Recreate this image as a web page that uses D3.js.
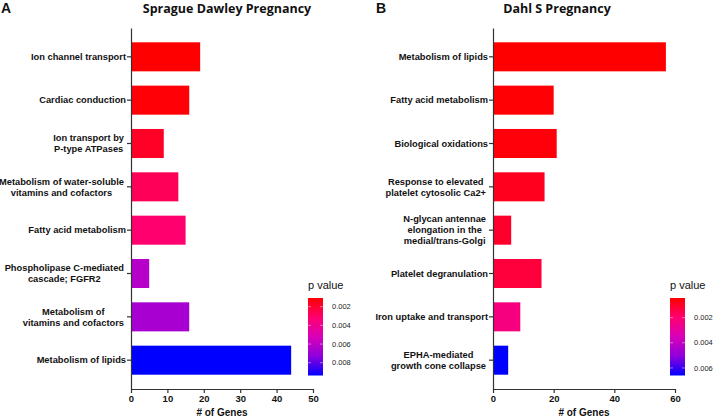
<!DOCTYPE html>
<html><head><meta charset="utf-8">
<script src="https://cdn.jsdelivr.net/npm/d3@7"></script>
<style>body{margin:0;background:#fff}svg{display:block}</style>
</head><body>
<svg id="c" width="715" height="418"></svg>
<script>
// ---- data ----
const catsA = ["Ion channel transport", "Cardiac conduction", "Ion transport by\nP-type ATPases",
  "Metabolism of water-soluble\nvitamins and cofactors", "Fatty acid metabolism",
  "Phospholipase C-mediated\ncascade; FGFR2", "Metabolism of\nvitamins and cofactors", "Metabolism of lipids"];
const genesA = [19, 16, 9, 13, 15, 5, 16, 44];
const pA = [0.00107, 0.0012, 0.0018, 0.0027, 0.0031, 0.0062, 0.0066, 0.00937];
const xTicksA = [0, 10, 20, 30, 40, 50];
const pTicksA = [0.002, 0.004, 0.006, 0.008];

const catsB = ["Metabolism of lipids", "Fatty acid metabolism", "Biological oxidations",
  "Response to elevated\nplatelet cytosolic Ca2+", "N-glycan antennae\nelongation in the\nmedial/trans-Golgi",
  "Platelet degranulation", "Iron uptake and transport", "EPHA-mediated\ngrowth cone collapse"];
const genesB = [57, 20, 21, 17, 6, 16, 9, 5];
const pB = [0.00044, 0.0005, 0.00058, 0.00085, 0.00106, 0.00127, 0.0023, 0.0066];
const xTicksB = [0, 20, 40, 60];
const pTicksB = [0.002, 0.004, 0.006];

const paletteStops = ["#ff0000", "#ff0070", "#d800b8", "#9000dc", "#0000ff"];

const svg = d3.select("#c");
const FONT = "'Liberation Sans', Arial, sans-serif";

function panel(cfg) {
  const g = svg.append("g");
  const y = d3.scaleBand().domain(cfg.cats).range([28, 389]).paddingInner(0.33).paddingOuter(0.33);
  const x = d3.scaleLinear().domain([0, cfg.xTicks[cfg.xTicks.length - 1]]).range([cfg.x0, cfg.x0 + 182]);
  const ext = d3.extent(cfg.p);
  const color = d3.scaleSequential(d3.piecewise(d3.interpolateRgb, paletteStops)).domain(ext);

  // bars
  g.selectAll("rect.bar").data(cfg.cats).join("rect")
    .attr("x", x(0)).attr("y", d => y(d))
    .attr("width", (d, i) => x(cfg.genes[i]) - x(0))
    .attr("height", y.bandwidth())
    .attr("fill", (d, i) => color(cfg.p[i]));

  // x axis
  const xa = g.append("g").attr("transform", `translate(0,389)`)
    .call(d3.axisBottom(x).tickValues(cfg.xTicks).tickSize(4).tickSizeOuter(0));
  xa.select(".domain").attr("stroke", "#333").attr("stroke-width", 1.2);
  xa.selectAll(".tick line").attr("stroke", "#333").attr("stroke-width", 1.2);
  xa.selectAll(".tick text").attr("font-family", FONT).attr("font-weight", "bold")
    .attr("font-size", 9.5).attr("fill", "#111").attr("dy", "0.85em").attr("y", 5);

  // y axis
  const ya = g.append("g").attr("transform", `translate(${cfg.x0},0)`)
    .call(d3.axisLeft(y).tickSize(4).tickSizeOuter(0).tickFormat(""));
  ya.select(".domain").attr("stroke", "#333").attr("stroke-width", 1.2);
  ya.selectAll(".tick line").attr("stroke", "#333").attr("stroke-width", 1.2);

  // category labels
  cfg.cats.forEach(c => {
    const lines = c.split("\n");
    const cy = y(c) + y.bandwidth() / 2;
    const lh = 11;
    const t = g.append("text").attr("font-family", FONT).attr("font-weight", "bold")
      .attr("font-size", 9.3).attr("fill", "#111");
    if (lines.length === 1) {
      t.attr("text-anchor", "end").attr("x", cfg.x0 - 5).attr("y", cy).attr("dy", "0.35em").text(c);
    } else {
      const spans = lines.map((l, k) => t.append("tspan").text(l)
        .attr("y", cy + (k - (lines.length - 1) / 2) * lh).attr("dy", "0.35em"));
      const w = d3.max(spans, s => s.node().getComputedTextLength());
      const mid = cfg.x0 - 7 - w / 2;
      t.attr("text-anchor", "middle");
      spans.forEach(s => s.attr("x", mid));
    }
  });

  // axis title
  g.append("text").attr("x", x.range()[0] + 91).attr("y", 416).attr("text-anchor", "middle")
    .attr("font-family", FONT).attr("font-weight", "bold").attr("font-size", 10).attr("fill", "#111")
    .text("# of Genes");

  // panel title
  g.append("text").attr("x", cfg.titleX).attr("y", 13).attr("text-anchor", "middle")
    .attr("font-family", "'Open Sans', sans-serif").attr("font-weight", "bold").attr("font-size", 12.5)
    .attr("fill", "#111").text(cfg.title);
  g.append("text").attr("x", cfg.letterX).attr("y", 13)
    .attr("font-family", FONT).attr("font-weight", "bold").attr("font-size", 14).attr("fill", "#111")
    .text(cfg.letter);

  // colorbar
  const cbX = cfg.cbX, cbW = 15, cbTop = 298, cbBot = 375.5;
  const cy = d3.scaleLinear().domain(ext).range([cbTop, cbBot]);
  const gid = "grad" + cfg.letter;
  const grad = svg.append("defs").append("linearGradient").attr("id", gid)
    .attr("x1", 0).attr("y1", 0).attr("x2", 0).attr("y2", 1);
  d3.range(0, 1.0001, 0.05).forEach(t => {
    grad.append("stop").attr("offset", t).attr("stop-color", color(ext[0] + t * (ext[1] - ext[0])));
  });
  g.append("rect").attr("x", cbX).attr("y", cbTop).attr("width", cbW).attr("height", cbBot - cbTop)
    .attr("fill", `url(#${gid})`);
  cfg.pTicks.forEach(v => {
    const yy = cy(v);
    g.append("line").attr("x1", cbX).attr("x2", cbX + 3).attr("y1", yy).attr("y2", yy)
      .attr("stroke", "#fff").attr("stroke-opacity", 0.45);
    g.append("line").attr("x1", cbX + cbW - 3).attr("x2", cbX + cbW).attr("y1", yy).attr("y2", yy)
      .attr("stroke", "#fff").attr("stroke-opacity", 0.45);
    g.append("text").attr("x", cbX + cbW + 9).attr("y", yy).attr("dy", "0.35em")
      .attr("font-family", FONT).attr("font-size", 7.5).attr("fill", "#222")
      .text(d3.format(".3f")(v));
  });
  g.append("text").attr("x", cbX).attr("y", 289)
    .attr("font-family", FONT).attr("font-size", 11).attr("fill", "#111").text("p value");
}

panel({cats: catsA, genes: genesA, p: pA, xTicks: xTicksA, pTicks: pTicksA, x0: 131,
  title: "Sprague Dawley Pregnancy", titleX: 227, letter: "A", letterX: 1, cbX: 308});
panel({cats: catsB, genes: genesB, p: pB, xTicks: xTicksB, pTicks: pTicksB, x0: 493,
  title: "Dahl S Pregnancy", titleX: 557, letter: "B", letterX: 376, cbX: 670});
</script>
</body></html>
